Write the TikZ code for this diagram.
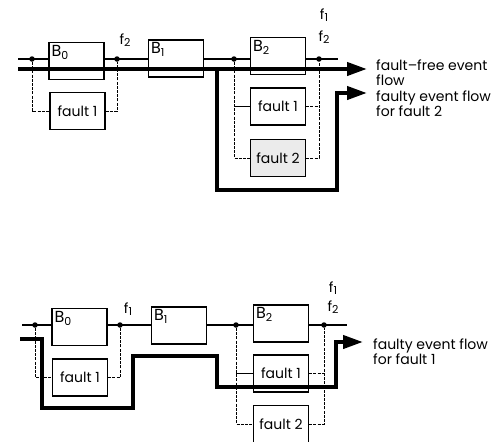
\documentclass[tikz,border=0pt]{standalone}
\usepackage{fontspec}
\setmainfont{Poppins}
\usetikzlibrary{arrows.meta, positioning, calc}
\pgfdeclarelayer{bg}
\pgfsetlayers{bg,main}
\newcommand{\idx}[1]{\raisebox{-0.35ex}{\fontsize{11}{11}\selectfont#1}}

\begin{document}
\begin{tikzpicture}[
x=1pt, y=-1pt,
font=\fontsize{14}{15}\selectfont,
block/.style={draw, line width=1.4pt, fill=white, minimum width=55pt, minimum height=37pt, inner sep=0pt},
bname/.style={label={[anchor=north west, inner sep=3pt, font=\fontsize{16}{16}\selectfont]north west:#1}},
sig/.style={line width=1.4pt},
side/.style={line width=1pt, dash pattern=on 3pt off 1.2pt},
flow/.style={line width=4pt},
arrow/.style={flow, -{Triangle[length=20pt, width=13pt]}},
dot/.style={circle, fill, inner sep=0pt, minimum size=5.5pt},
note/.style={anchor=west, align=left, inner sep=0pt}
]
\useasboundingbox (0,0) rectangle (496,442);

% upper chain, fault 2 active
\coordinate (s1) at (18,59);
\coordinate (e1) at (338,59);
\node[dot] (d1) at (32,59) {};
\node[dot] (d2) at (117,59) {};
\node[dot] (d3) at (234,59) {};
\node[dot] (d4) at (319,59) {};
\node[block, bname=B\idx{0}] (b0) at (76.5,61) {};
\node[block] (fa) at (77.5,111) {fault 1};
\node[block, bname=B\idx{1}] (b1) at (176,58.5) {};
\node[block, bname=B\idx{2}] (b2) at (278,56) {};
\node[block] (fb) at (278,106.5) {fault 1};
\node[block, fill=black!8] (fc) at (278,158) {fault 2};
\begin{pgfonlayer}{bg}
\draw[sig] (s1) -- (e1);
\end{pgfonlayer}
\draw[side] (d1) |- (fa.west);
\draw[side] (fa.east) -| (d2);
\draw[side] (d3) |- (fc.west);
\draw[side] (fc.east) -| (d4);
\draw[line width=1pt] (d3 |- fb.west) -- (fb.west);
\draw[side] (fb.east) -- (d4 |- fb.east);
\node (fl1) at (125,40) {f\idx{2}};
\node (fl2) at (324,15) {f\idx{1}};
\node (fl3) at (324,37) {f\idx{2}};
% event flows
\coordinate (t0) at (18,69);
\coordinate (t1) at (367,69);
\coordinate (u0) at (217,69);
\coordinate (u1) at (337,190);
\coordinate (u2) at (367,93);
\draw[arrow] (t0) -- (t1);
\draw[arrow] (u0) |- (u1) |- (u2);
\node[note] (tfree) at (376,73) {fault--free event\\flow};
\node[note] (tf2) at (376,104) {faulty event flow\\for fault 2};

% lower chain, fault 1 active
\coordinate (s2) at (22,325);
\coordinate (e2) at (347,325);
\node[dot] (g1) at (35,325) {};
\node[dot] (g2) at (120,325) {};
\node[dot] (g3) at (236,325) {};
\node[dot] (g4) at (324,325) {};
\node[block, bname=B\idx{0}] (c0) at (79.5,327) {};
\node[block] (fd) at (80,377.5) {fault 1};
\node[block, bname=B\idx{1}] (c1) at (179,325.5) {};
\node[block, bname=B\idx{2}] (c2) at (281,323.5) {};
\node[block] (fe) at (281,373.5) {fault 1};
\node[block] (ff) at (281,424) {fault 2};
\begin{pgfonlayer}{bg}
\draw[sig] (s2) -- (e2);
\end{pgfonlayer}
\draw[side] (g1) |- (fd.west);
\draw[side] (fd.east) -| (g2);
\draw[side] (g3) |- (ff.west);
\draw[side] (ff.east) -| (g4);
\draw[line width=1pt] (g3 |- fe.west) -- (fe.west);
\draw[side] (fe.east) -- (g4 |- fe.east);
\node (fl4) at (128,309) {f\idx{1}};
\node (fl5) at (333,288) {f\idx{1}};
\node (fl6) at (333,307) {f\idx{2}};
% event flow
\coordinate (v0) at (20,339);
\coordinate (v1) at (42,408);
\coordinate (v2) at (133,356);
\coordinate (v3) at (217,387);
\coordinate (v4) at (336,342);
\coordinate (v5) at (363,342);
\draw[arrow] (v0) -| (v1) -| (v2) -| (v3) -| (v4) -- (v5);
\node[note] (tf1) at (373,352) {faulty event flow\\for fault 1};
\end{tikzpicture}
\end{document}
